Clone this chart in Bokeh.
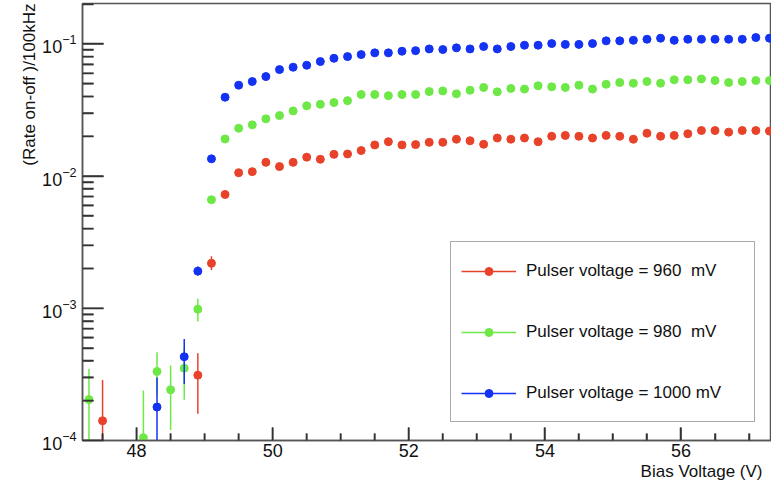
import math
from bokeh.plotting import figure
from bokeh.models import Range1d, FixedTicker, LogTickFormatter, Legend, LegendItem, Title, ColumnDataSource
from bokeh.embed import file_html
from bokeh.resources import INLINE

FONT = "Liberation Sans"

# ---------------- data ----------------
x_main = [49.1, 49.3, 49.5, 49.7, 49.9, 50.1, 50.3, 50.5, 50.7, 50.9, 51.1, 51.3, 51.5, 51.7,
          51.9, 52.1, 52.3, 52.5, 52.7, 52.9, 53.1, 53.3, 53.5, 53.7, 53.9, 54.1, 54.3, 54.5,
          54.7, 54.9, 55.1, 55.3, 55.5, 55.7, 55.9, 56.1, 56.3, 56.5, 56.7, 56.9, 57.1, 57.3]

red_main = [2.19e-3, 7.26e-3, 1.06e-2, 1.08e-2, 1.27e-2, 1.18e-2, 1.27e-2, 1.39e-2, 1.34e-2,
            1.46e-2, 1.47e-2, 1.56e-2, 1.72e-2, 1.82e-2, 1.72e-2, 1.73e-2, 1.80e-2, 1.80e-2,
            1.90e-2, 1.85e-2, 1.74e-2, 1.94e-2, 1.90e-2, 1.94e-2, 1.82e-2, 2.00e-2, 2.03e-2,
            2.00e-2, 1.94e-2, 2.03e-2, 2.00e-2, 1.90e-2, 2.11e-2, 2.00e-2, 2.03e-2, 2.09e-2,
            2.21e-2, 2.21e-2, 2.15e-2, 2.21e-2, 2.21e-2, 2.19e-2]
green_main = [6.62e-3, 1.91e-2, 2.30e-2, 2.44e-2, 2.71e-2, 2.87e-2, 3.11e-2, 3.40e-2, 3.49e-2,
              3.60e-2, 3.72e-2, 4.14e-2, 4.14e-2, 4.06e-2, 4.14e-2, 4.14e-2, 4.36e-2, 4.41e-2,
              4.19e-2, 4.46e-2, 4.68e-2, 4.34e-2, 4.60e-2, 4.55e-2, 4.82e-2, 4.73e-2, 4.68e-2,
              4.87e-2, 4.55e-2, 4.95e-2, 5.10e-2, 5.04e-2, 5.19e-2, 5.04e-2, 5.35e-2, 5.35e-2,
              5.43e-2, 5.28e-2, 5.10e-2, 5.19e-2, 5.28e-2, 5.28e-2]
blue_main = [1.35e-2, 3.95e-2, 4.87e-2, 5.19e-2, 5.66e-2, 6.39e-2, 6.66e-2, 6.89e-2, 7.35e-2,
             7.78e-2, 8.01e-2, 8.30e-2, 8.55e-2, 8.55e-2, 8.80e-2, 8.89e-2, 9.16e-2, 9.06e-2,
             9.33e-2, 9.16e-2, 9.55e-2, 9.16e-2, 9.55e-2, 9.77e-2, 9.77e-2, 1.005e-1, 9.91e-2,
             9.91e-2, 1.005e-1, 1.054e-1, 1.054e-1, 1.064e-1, 1.084e-1, 1.104e-1, 1.064e-1,
             1.084e-1, 1.084e-1, 1.084e-1, 1.084e-1, 1.084e-1, 1.117e-1, 1.104e-1]

# low-voltage points (with visible error bars)
red_low_x = [47.5, 48.9]
red_low_y = [1.41e-4, 3.12e-4]
red_err_x = [47.5, 48.9, 49.1]
red_err_hi = [2.87e-4, 4.57e-4, 2.47e-3]
red_err_lo = [5.0e-5, 1.59e-4, 1.95e-3]

green_low_x = [47.3, 48.1, 48.3, 48.5, 48.7, 48.9]
green_low_y = [2.04e-4, 1.05e-4, 3.33e-4, 2.42e-4, 3.52e-4, 9.85e-4]
green_err_x = [47.3, 48.1, 48.3, 48.5, 48.7, 48.9]
green_err_hi = [3.48e-4, 2.39e-4, 4.66e-4, 3.69e-4, 5.0e-4, 1.18e-3]
green_err_lo = [5.0e-5, 5.0e-5, 2.2e-4, 1.2e-4, 2.03e-4, 7.94e-4]

blue_low_x = [48.3, 48.7, 48.9]
blue_low_y = [1.79e-4, 4.30e-4, 1.91e-3]
blue_err_x = [48.3, 48.7, 48.9]
blue_err_hi = [3.0e-4, 5.87e-4, 2.07e-3]
blue_err_lo = [5.0e-5, 2.68e-4, 1.77e-3]

labels = ["Pulser voltage = 960  mV", "Pulser voltage = 980  mV", "Pulser voltage = 1000 mV"]
colors = ["#e8432a", "#6ee846", "#1432f2"]

x_major = [48.0, 50.0, 52.0, 54.0, 56.0]
x_minor = [47.5, 48.5, 49.0, 49.5, 50.5, 51.0, 51.5, 52.5, 53.0, 53.5,
           54.5, 55.0, 55.5, 56.5, 57.0]
y_major = [1e-4, 1e-3, 1e-2, 1e-1]
y_minor = [k * d for d in [1e-4, 1e-3, 1e-2, 1e-1] for k in range(2, 10)]

X0, X1 = 47.205, 57.33
Y0, Y1 = 1e-4, 0.202

W, H = 771, 489
BL, BR, BT, BB = 82, 0, 3, 49

# ---------------- figure ----------------
p = figure(width=W, height=H, y_axis_type="log",
           x_range=Range1d(X0, X1), y_range=Range1d(Y0, Y1),
           output_backend="svg", toolbar_location=None,
           min_border_left=BL, min_border_right=BR, min_border_top=BT, min_border_bottom=BB)
p.grid.visible = False
p.background_fill_color = "white"
p.border_fill_color = "white"
p.outline_line_color = "#555555"
p.outline_line_width = 1.5

xa = p.xaxis[0]
xa.ticker = FixedTicker(ticks=x_major, minor_ticks=x_minor)
xa.major_tick_in = 13
xa.major_tick_out = 0
xa.minor_tick_in = 7
xa.minor_tick_out = 0
xa.major_tick_line_color = "#333333"
xa.minor_tick_line_color = "#333333"
xa.major_tick_line_width = 1.5
xa.minor_tick_line_width = 1.5
xa.major_label_text_font = FONT
xa.major_label_text_font_size = "18px"
xa.major_label_text_color = "#111111"
xa.major_label_standoff = 3
xa.axis_line_color = "#555555"
xa.axis_line_width = 1.5

ya = p.yaxis[0]
ya.ticker = FixedTicker(ticks=y_major, minor_ticks=y_minor)
ya.formatter = LogTickFormatter()
ya.major_tick_in = 21
ya.major_tick_out = 0
ya.minor_tick_in = 11
ya.minor_tick_out = 0
ya.major_tick_line_color = "#333333"
ya.minor_tick_line_color = "#333333"
ya.major_tick_line_width = 1.5
ya.minor_tick_line_width = 1.5
ya.major_label_text_font = FONT
ya.major_label_text_font_size = "18px"
ya.major_label_text_color = "#111111"
ya.major_label_standoff = 6
ya.axis_line_color = "#555555"
ya.axis_line_width = 1.5

p.add_layout(Title(text="(Rate on-off )/100kHz", align="right", text_font=FONT,
                   text_font_size="17px", text_font_style="normal", text_color="#111111",
                   standoff=2), "left")
p.add_layout(Title(text="Bias Voltage (V)", align="right", text_font=FONT,
                   text_font_size="17px", text_font_style="normal", text_color="#111111",
                   standoff=0, offset=9), "below")

series = [
    (red_low_x + x_main, red_low_y + red_main, red_err_x, red_err_hi, red_err_lo),
    (green_low_x + x_main, green_low_y + green_main, green_err_x, green_err_hi, green_err_lo),
    (blue_low_x + x_main, blue_low_y + blue_main, blue_err_x, blue_err_hi, blue_err_lo),
]

items = []
for (xs, ys, ex, ehi, elo), c, lab in zip(series, colors, labels):
    seg = p.segment(x0=ex, y0=elo, x1=ex, y1=ehi, line_color=c, line_width=1.5)
    sc = p.scatter(x=xs, y=ys, size=8, fill_color=c, line_color=c)
    items.append(LegendItem(label=lab, renderers=[seg, sc]))

# inward ticks (ROOT style) also drawn as segments from the tick lists, with
# lengths in pixels converted through the frame's scale
frame_w = W - BL - BR
frame_h = H - BT - BB
px_per_x = frame_w / (X1 - X0)
px_per_dec = frame_h / math.log10(Y1 / Y0)

xt_x, xt_y0, xt_y1 = [], [], []
for v in x_major:
    xt_x.append(v); xt_y0.append(Y0 * 0.8); xt_y1.append(Y0 * 10 ** (13 / px_per_dec))
for v in x_minor:
    xt_x.append(v); xt_y0.append(Y0 * 0.8); xt_y1.append(Y0 * 10 ** (7 / px_per_dec))
yt_y, yt_x0, yt_x1 = [], [], []
for v in y_major:
    yt_y.append(v); yt_x0.append(X0 - 0.1); yt_x1.append(X0 + 21 / px_per_x)
for v in y_minor:
    yt_y.append(v); yt_x0.append(X0 - 0.1); yt_x1.append(X0 + 11 / px_per_x)

TICK = "#333333"
src_xt = ColumnDataSource(dict(x0=xt_x, y0=xt_y0, x1=xt_x, y1=xt_y1))
src_yt = ColumnDataSource(dict(x0=yt_x0, y0=yt_y, x1=yt_x1, y1=yt_y))
p.segment(x0="x0", y0="y0", x1="x1", y1="y1", source=src_xt, line_color=TICK, line_width=1.6)
p.segment(x0="x0", y0="y0", x1="x1", y1="y1", source=src_yt, line_color=TICK, line_width=1.6)

legend = Legend(items=items, location=(368, 18), orientation="vertical",
                label_text_font=FONT, label_text_font_size="17px", label_text_color="#111111",
                glyph_width=55, glyph_height=20, label_height=37, label_width=218,
                label_standoff=10, spacing=24, padding=10, margin=0,
                border_line_color="#555555", border_line_width=1,
                background_fill_color="white", background_fill_alpha=1.0)
p.add_layout(legend, "center")

open("out.html", "w").write(file_html(p, INLINE))
